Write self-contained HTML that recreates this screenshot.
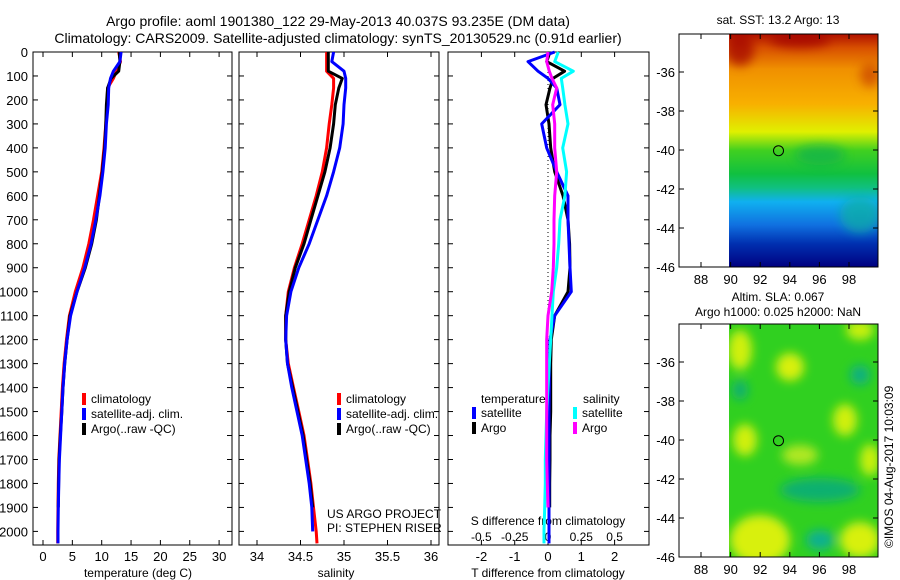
<!DOCTYPE html>
<html><head><meta charset="utf-8"><style>
body{margin:0;background:#fff;}
svg{display:block;font-family:"Liberation Sans",sans-serif;}
</style></head><body>
<svg id="c" width="900" height="580" viewBox="0 0 900 580">
<defs>
<linearGradient id="sst" x1="0" y1="0" x2="0" y2="1">
<stop offset="0" stop-color="#b01000"/><stop offset="0.06" stop-color="#d85000"/>
<stop offset="0.15" stop-color="#f09000"/><stop offset="0.3" stop-color="#f8b000"/>
<stop offset="0.42" stop-color="#e0f000"/><stop offset="0.5" stop-color="#40d020"/>
<stop offset="0.6" stop-color="#10c040"/><stop offset="0.66" stop-color="#10c080"/>
<stop offset="0.72" stop-color="#10b0f0"/><stop offset="0.82" stop-color="#1070e0"/>
<stop offset="0.9" stop-color="#0030b0"/><stop offset="1" stop-color="#000080"/>
</linearGradient>
<filter id="blur"><feGaussianBlur stdDeviation="5"/></filter>
<clipPath id="m1"><rect x="729" y="34" width="149" height="233"/></clipPath>
<clipPath id="m2"><rect x="729" y="324" width="149" height="233"/></clipPath>
</defs>
<g id="titles" font-size="14" fill="#000">
<text x="338" y="26" text-anchor="middle">Argo profile: aoml 1901380_122 29-May-2013 40.037S 93.235E (DM data)</text>
<text x="338" y="43" text-anchor="middle">Climatology: CARS2009. Satellite-adjusted climatology: synTS_20130529.nc (0.91d earlier)</text>
</g>
<g id="p1"></g><g id="p2"></g><g id="p3"></g>
<g id="maps">
<text x="778" y="24" font-size="12" text-anchor="middle">sat. SST: 13.2 Argo: 13</text>
<rect x="729" y="34" width="149" height="233" fill="url(#sst)"/>
<g clip-path="url(#m1)" filter="url(#blur)" opacity="0.7">
<ellipse cx="740" cy="50" rx="14" ry="16" fill="#a00000"/>
<ellipse cx="800" cy="40" rx="30" ry="8" fill="#a00000"/>
<ellipse cx="870" cy="75" rx="10" ry="12" fill="#c84000"/>
<ellipse cx="820" cy="155" rx="25" ry="10" fill="#10b050"/>
<ellipse cx="860" cy="215" rx="20" ry="18" fill="#10b0a0"/>
</g>
<rect x="679" y="34" width="199" height="233" fill="none" stroke="#000"/>
<circle cx="778.5" cy="150.7" r="5" fill="none" stroke="#000"/>
<text x="778" y="301" font-size="12" text-anchor="middle">Altim. SLA: 0.067</text>
<text x="778" y="316" font-size="12" text-anchor="middle">Argo h1000: 0.025 h2000: NaN</text>
<rect x="729" y="324" width="149" height="233" fill="#30d020"/>
<g clip-path="url(#m2)" filter="url(#blur)">
<ellipse cx="740" cy="350" rx="12" ry="20" fill="#d0f010"/>
<ellipse cx="790" cy="367" rx="14" ry="14" fill="#d8f010"/>
<ellipse cx="860" cy="330" rx="14" ry="10" fill="#c8f010"/>
<ellipse cx="845" cy="420" rx="12" ry="16" fill="#d0f010"/>
<ellipse cx="745" cy="440" rx="12" ry="16" fill="#d0f010"/>
<ellipse cx="800" cy="455" rx="18" ry="10" fill="#b0e820"/>
<ellipse cx="870" cy="460" rx="10" ry="16" fill="#c8f010"/>
<ellipse cx="820" cy="490" rx="40" ry="12" fill="#10b070"/>
<ellipse cx="820" cy="540" rx="14" ry="10" fill="#10b090"/>
<ellipse cx="760" cy="540" rx="30" ry="25" fill="#d8f010"/>
<ellipse cx="860" cy="540" rx="20" ry="18" fill="#d8f010"/>
<ellipse cx="860" cy="375" rx="10" ry="10" fill="#10b080"/>
<ellipse cx="740" cy="390" rx="8" ry="10" fill="#10b070"/>
</g>
<rect x="679" y="324" width="199" height="233" fill="none" stroke="#000"/>
<circle cx="778.5" cy="440.7" r="5" fill="none" stroke="#000"/>
<text x="0" y="0" font-size="12" transform="translate(893,548) rotate(-90)">©IMOS 04-Aug-2017 10:03:09</text>
</g>
<g id="mapaxes"></g>
</svg>
<script>
const NS='http://www.w3.org/2000/svg';
const depthTicks=[0,100,200,300,400,500,600,700,800,900,1000,1100,1200,1300,1400,1500,1600,1700,1800,1900,2000];
const tempTicks=[0,5,10,15,20,25,30];
const salTicks=[34,34.5,35,35.5,36];
const tdTicks=[-2,-1,0,1,2];
const sdTicks=[-0.5,-0.25,0,0.25,0.5];
const depths=[0,40,80,110,150,220,300,400,500,600,700,800,900,1000,1100,1200,1300,1400,1500,1600,1700,1800,1900,2000,2050];
const tempClim=[12.9,13.2,12.5,12.0,11.0,10.9,10.7,10.4,10.0,9.3,8.6,7.8,6.8,5.5,4.5,4.0,3.6,3.3,3.1,2.9,2.7,2.6,2.55,2.5,2.5];
const tempSat=[13.3,13.1,12.0,11.5,11.2,11.1,10.8,10.6,10.2,9.7,9.0,8.2,7.1,5.8,4.7,4.1,3.7,3.4,3.2,3.0,2.8,2.7,2.6,2.55,2.55];
const tempArgo=[13.0,13.1,12.9,11.6,11.0,10.8,10.7,10.5,10.1,9.6,9.1,8.3,7.2,5.8,4.6,4.1,3.7,3.4,3.2,2.95,2.75,2.65,2.6,null,null];
const salClim=[34.8,34.8,34.8,34.88,34.88,34.86,34.83,34.8,34.75,34.68,34.6,34.52,34.43,34.36,34.33,34.33,34.36,34.42,34.48,34.54,34.58,34.62,34.65,34.68,34.69];
const salSat=[34.88,34.86,35.0,35.02,35.02,35.0,34.99,34.95,34.88,34.8,34.7,34.6,34.48,34.39,34.34,34.33,34.35,34.4,34.46,34.52,34.56,34.6,34.63,34.64,null];
const salArgo=[34.82,34.82,34.82,34.98,34.94,34.9,34.88,34.84,34.78,34.7,34.62,34.54,34.44,34.37,34.33,34.33,34.35,34.41,34.47,34.53,34.57,34.61,34.64,null,null];
const dTsat=[0.2,-0.6,-0.3,0,0.26,0.36,-0.19,-0.04,0.26,0.6,0.6,0.63,0.66,0.7,0.2,0.06,0.04,0.04,0.03,0.03,0.03,0.03,0.03,0.03,0.03];
const dTargo=[0.06,-0.04,0.5,0.15,0.06,-0.06,0.03,0.08,0.2,0.45,0.6,0.65,0.66,0.6,0.2,0.1,0.08,0.08,0.08,0.06,0.06,0.05,0.05,null,null];
const dSsat=[0.077,0.05,0.19,0.1,0.11,0.127,0.15,0.11,0.14,0.127,0.09,0.08,0.065,0.04,0.03,0.02,0.01,0.0,-0.01,-0.015,-0.02,-0.02,-0.025,-0.03,-0.03];
const dSargo=[0.0,-0.01,0.01,0.03,0.065,0.035,0.05,0.05,0.065,0.05,0.045,0.045,0.04,0.028,0.0,-0.01,-0.01,-0.01,-0.01,-0.01,-0.01,-0.005,0.0,null,null];
const latTicks=[-36,-38,-40,-42,-44,-46];
const lonTicks=[88,90,92,94,96,98];

const yD=d=>52+d*0.2397;
const xT=t=>43+t*5.87;
const xS=s=>257+(s-34)*87;
const xDT=t=>548+t*33.3;
const xDS=s=>548+s*133.2;
const yLat=l=>72+(-36-l)*19.5;
const xLon=l=>701+(l-88)*14.8;

function mk(tag,attrs,parent,txt){const e=document.createElementNS(NS,tag);for(const k in attrs)e.setAttribute(k,attrs[k]);if(txt!==undefined)e.textContent=txt;parent.appendChild(e);return e;}
function frame(g,x0,x1,name){
  const r=mk('rect',{x:x0,y:52,width:x1-x0,height:493,fill:'none',stroke:'#000'},g);
  
  
  depthTicks.forEach(d=>{mk('line',{x1:x0,x2:x0+5,y1:yD(d),y2:yD(d),stroke:'#000'},g);mk('line',{x1:x1-5,x2:x1,y1:yD(d),y2:yD(d),stroke:'#000'},g);});
}
function xticks(g,ticks,fx,y,name){
  ticks.forEach(t=>{const x=fx(t);mk('line',{x1:x,x2:x,y1:545,y2:540,stroke:'#000'},g);mk('line',{x1:x,x2:x,y1:52,y2:57,stroke:'#000'},g);
    const tx=mk('text',{x:x,y:y,'font-size':13,'text-anchor':'middle'},g,String(t));
    
    });
}
function series(g,xs,fx,color,name,w){
  let d='';let started=false;
  depths.forEach((dp,i)=>{if(xs[i]===null||xs[i]===undefined)return;d+=(started?'L':'M')+fx(xs[i]).toFixed(1)+' '+yD(dp).toFixed(1);started=true;});
  const p=mk('path',{d:d,fill:'none',stroke:color,'stroke-width':w||3,'stroke-linejoin':'round'},g);
  
  
}
function legend(g,x,y,items){
  items.forEach((it,i)=>{mk('rect',{x:x,y:y+i*15-10,width:4,height:12,fill:it[1]},g);
    const t=mk('text',{x:x+9,y:y+i*15,'font-size':12},g,it[0]);
    
    });
}
const g1=document.getElementById('p1');
frame(g1,33,232,'temperature-plot-frame');
depthTicks.forEach(d=>{const t=mk('text',{x:28,y:yD(d)+5,'font-size':13,'text-anchor':'end'},g1,d);
  
  });
xticks(g1,tempTicks,xT,561,'temperature-tick-label');
const xl1=mk('text',{x:138,y:577,'font-size':12,'text-anchor':'middle'},g1,'temperature (deg C)');


series(g1,tempClim,xT,'#f00','temp-climatology-line');
series(g1,tempArgo,xT,'#000','temp-argo-line');
series(g1,tempSat,xT,'#00f','temp-satellite-line');
legend(g1,82,403,[['climatology','#f00'],['satellite-adj. clim.','#00f'],['Argo(..raw -QC)','#000']]);
const g2=document.getElementById('p2');
frame(g2,239,439,'salinity-plot-frame');
xticks(g2,salTicks,xS,561,'salinity-tick-label');
const xl2=mk('text',{x:336,y:577,'font-size':12,'text-anchor':'middle'},g2,'salinity');


series(g2,salClim,xS,'#f00','sal-climatology-line');
series(g2,salArgo,xS,'#000','sal-argo-line');
series(g2,salSat,xS,'#00f','sal-satellite-line');
legend(g2,337,403,[['climatology','#f00'],['satellite-adj. clim.','#00f'],['Argo(..raw -QC)','#000']]);
const pr1=mk('text',{x:327,y:518,'font-size':12},g2,'US ARGO PROJECT');


const pr2=mk('text',{x:327,y:532,'font-size':12},g2,'PI: STEPHEN RISER');


const g3=document.getElementById('p3');
frame(g3,448,649,'difference-plot-frame');
mk('line',{x1:xDT(0),x2:xDT(0),y1:52,y2:545,stroke:'#000','stroke-dasharray':'1,3'},g3);
xticks(g3,tdTicks,xDT,561,'t-diff-tick-label');
sdTicks.forEach(s=>{const t=mk('text',{x:xDS(s),y:541,'font-size':12,'text-anchor':'middle'},g3,s);
  
  });
const st=mk('text',{x:548,y:525,'font-size':12,'text-anchor':'middle'},g3,'S difference from climatology');


const tt=mk('text',{x:548,y:577,'font-size':12,'text-anchor':'middle'},g3,'T difference from climatology');


series(g3,dTargo,xDT,'#000','t-diff-argo-line');
series(g3,dTsat,xDT,'#00f','t-diff-satellite-line');
series(g3,dSsat,xDS,'#0ff','s-diff-satellite-line');
series(g3,dSargo,xDS,'#f0f','s-diff-argo-line');
const lt=mk('text',{x:481,y:403,'font-size':12},g3,'temperature');


const ls=mk('text',{x:583,y:403,'font-size':12},g3,'salinity');


legend(g3,472,417,[['satellite','#00f'],['Argo','#000']]);
legend(g3,573,417,[['satellite','#0ff'],['Argo','#f0f']]);
const gm=document.getElementById('mapaxes');
[[0,'sst'],[290,'sla']].forEach(([off,nm])=>{
  latTicks.forEach(l=>{const y=yLat(l)+off;mk('line',{x1:679,x2:684,y1:y,y2:y,stroke:'#000'},gm);mk('line',{x1:873,x2:878,y1:y,y2:y,stroke:'#000'},gm);
    const t=mk('text',{x:675,y:y+5,'font-size':13,'text-anchor':'end'},gm,String(l));
    
    });
  lonTicks.forEach(l=>{const x=xLon(l);const yb=(off?557:267);mk('line',{x1:x,x2:x,y1:yb,y2:yb-5,stroke:'#000'},gm);mk('line',{x1:x,x2:x,y1:yb-233,y2:yb-228,stroke:'#000'},gm);
    const t=mk('text',{x:x,y:yb+17,'font-size':13,'text-anchor':'middle'},gm,String(l));
    
    });
});
</script>
</body></html>
